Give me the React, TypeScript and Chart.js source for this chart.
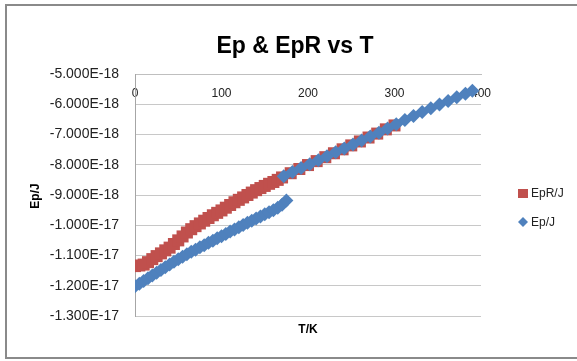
import React, { useEffect, useRef } from "react";
import { Chart, registerables } from "chart.js";

Chart.register(...registerables);

// EpR/J series (red squares)
const eprT = [
  0, 5, 10, 15, 20, 25, 30, 35, 40, 45, 50, 55, 60, 65, 70, 75, 80, 85, 90, 95,
  100, 105, 110, 115, 120, 125, 130, 135, 140, 145, 150, 155, 160, 165, 170,
  180, 190, 200, 210, 220, 230, 240, 250, 260, 270, 280, 290, 300,
];
const eprJ = [
  -11.35e-18, -11.33e-18, -11.3e-18, -11.22e-18, -11.12e-18, -11.02e-18, -10.93e-18, -10.83e-18,
  -10.74e-18, -10.62e-18, -10.5e-18, -10.37e-18, -10.24e-18, -10.13e-18, -10.03e-18, -9.94e-18,
  -9.85e-18, -9.76e-18, -9.67e-18, -9.59e-18, -9.51e-18, -9.42e-18, -9.33e-18, -9.24e-18,
  -9.16e-18, -9.08e-18, -9.0e-18, -8.92e-18, -8.84e-18, -8.77e-18, -8.7e-18, -8.63e-18,
  -8.57e-18, -8.5e-18, -8.42e-18,
  -8.28e-18, -8.14e-18, -8.01e-18, -7.88e-18, -7.75e-18, -7.62e-18, -7.49e-18, -7.36e-18,
  -7.23e-18, -7.1e-18, -6.97e-18, -6.83e-18, -6.7e-18,
];

// Ep/J series (blue diamonds)
const epT = [
  0, 5, 10, 15, 20, 25, 30, 35, 40, 45, 50, 55, 60, 65, 70, 75, 80, 85, 90, 95,
  100, 105, 110, 115, 120, 125, 130, 135, 140, 145, 150, 155, 160, 165, 170, 175,
  172, 182, 192, 202, 212, 222, 232, 242, 252, 262, 272, 282, 292, 302, 312, 322,
  332, 342, 352, 362, 372, 382, 390,
];
const epJ = [
  -12.02e-18, -11.93e-18, -11.84e-18, -11.75e-18, -11.66e-18, -11.57e-18, -11.48e-18, -11.39e-18,
  -11.3e-18, -11.21e-18, -11.12e-18, -11.04e-18, -10.96e-18, -10.88e-18, -10.81e-18, -10.73e-18,
  -10.66e-18, -10.58e-18, -10.51e-18, -10.43e-18, -10.36e-18, -10.29e-18, -10.21e-18, -10.14e-18,
  -10.07e-18, -9.99e-18, -9.92e-18, -9.85e-18, -9.78e-18, -9.71e-18, -9.64e-18, -9.57e-18,
  -9.5e-18, -9.42e-18, -9.32e-18, -9.18e-18,
  -8.38e-18, -8.24e-18, -8.11e-18, -7.98e-18, -7.85e-18, -7.72e-18, -7.59e-18, -7.46e-18,
  -7.33e-18, -7.2e-18, -7.07e-18, -6.94e-18, -6.8e-18, -6.66e-18, -6.52e-18, -6.39e-18,
  -6.26e-18, -6.13e-18, -6.01e-18, -5.89e-18, -5.77e-18, -5.65e-18, -5.55e-18,
];

const xTicks = [0, 100, 200, 300, 400];
const yTicks = [
  -1.3e-17, -1.2e-17, -1.1e-17, -1.0e-17, -9.0e-18, -8.0e-18, -7.0e-18, -6.0e-18, -5.0e-18,
];
const yTickLabels = [
  "-1.300E-17", "-1.200E-17", "-1.100E-17", "-1.000E-17", "-9.000E-18",
  "-8.000E-18", "-7.000E-18", "-6.000E-18", "-5.000E-18",
];

const TITLE = "Ep & EpR vs T";
const X_TITLE = "T/K";
const Y_TITLE = "Ep/J";
const SERIES_NAMES = ["EpR/J", "Ep/J"];

const RED = "#C0504D";
const BLUE = "#4F81BD";
const FONT = '"Liberation Sans", Arial, sans-serif';

const decorPlugin = {
  id: "decor",
  beforeDraw(chart: any) {
    const ctx = chart.ctx;
    ctx.save();
    ctx.fillStyle = "#ffffff";
    ctx.fillRect(0, 0, chart.width, chart.height);
    ctx.restore();
  },
  afterDraw(chart: any) {
    const ctx = chart.ctx;
    ctx.save();
    // border
    ctx.strokeStyle = "#8A8A8A";
    ctx.lineWidth = 2;
    ctx.strokeRect(6, 5, chart.width + 10, 353);
    // title
    ctx.fillStyle = "#000000";
    ctx.font = `bold 23px ${FONT}`;
    ctx.textAlign = "center";
    ctx.textBaseline = "alphabetic";
    ctx.fillText(TITLE, 295, 53);
    // axis titles
    ctx.font = `bold 12px ${FONT}`;
    ctx.textBaseline = "middle";
    ctx.fillText(X_TITLE, 308, 330);
    ctx.save();
    ctx.translate(36, 196);
    ctx.rotate(-Math.PI / 2);
    ctx.fillText(Y_TITLE, 0, 0);
    ctx.restore();
    // legend
    const ds = chart.data.datasets;
    ctx.font = `12px ${FONT}`;
    ctx.textAlign = "left";
    ctx.fillStyle = ds[0].backgroundColor;
    ctx.fillRect(518, 189, 10, 9);
    ctx.fillStyle = "#222222";
    ctx.fillText(ds[0].label, 531, 194);
    ctx.fillStyle = ds[1].backgroundColor;
    ctx.beginPath();
    ctx.moveTo(523, 217);
    ctx.lineTo(528, 222);
    ctx.lineTo(523, 227);
    ctx.lineTo(518, 222);
    ctx.closePath();
    ctx.fill();
    ctx.fillStyle = "#222222";
    ctx.fillText(ds[1].label, 531, 223);
    ctx.restore();
  },
};

export default function App() {
  const ref = useRef<HTMLCanvasElement | null>(null);
  useEffect(() => {
    if (!ref.current) return;
    const chart = new Chart(ref.current, {
      type: "scatter",
      data: {
        datasets: [
          {
            label: SERIES_NAMES[0],
            data: eprT.map((t, i) => ({ x: t, y: eprJ[i] })),
            backgroundColor: RED,
            borderColor: RED,
            pointStyle: "rect",
            pointRadius: 8.5,
            pointBorderWidth: 0,
            showLine: false,
            order: 1,
          },
          {
            label: SERIES_NAMES[1],
            data: epT.map((t, i) => ({ x: t, y: epJ[i] })),
            backgroundColor: BLUE,
            borderColor: BLUE,
            pointStyle: "rectRot",
            pointRadius: 7,
            pointBorderWidth: 0,
            showLine: false,
            order: 0,
          },
        ],
      },
      options: {
        animation: false,
        responsive: false,
        maintainAspectRatio: false,
        events: [],
        layout: { padding: { left: 0, top: 74, right: 96, bottom: 45 } },
        plugins: {
          legend: { display: false },
          title: { display: false },
          tooltip: { enabled: false },
        },
        scales: {
          x: {
            type: "linear",
            min: 0,
            max: 400,
            position: { y: -5e-18 } as any,
            grid: { display: false, drawTicks: false },
            border: { display: true, color: "#BFBFBF" },
            ticks: {
              padding: 12,
              maxRotation: 0,
              color: "#222222",
              font: { family: FONT, size: 12 },
            },
            afterBuildTicks: (s: any) => {
              s.ticks = xTicks.map((v) => ({ value: v }));
            },
          },
          y: {
            type: "linear",
            min: -1.3e-17,
            max: -5e-18,
            grid: { color: "#C8C8C8", drawTicks: false },
            border: { display: true, color: "#A6A6A6" },
            ticks: {
              padding: 16,
              color: "#222222",
              font: { family: FONT, size: 14 },
              callback: (_v: any, i: number) => yTickLabels[i],
            },
            afterBuildTicks: (s: any) => {
              s.ticks = yTicks.map((v) => ({ value: v }));
            },
            afterFit: (s: any) => {
              s.width = 135;
            },
          },
        },
      },
      plugins: [decorPlugin],
    });
    return () => chart.destroy();
  }, []);
  return (
    <div style={{ position: "absolute", left: 0, top: 0, width: 577, height: 361 }}>
      <canvas ref={ref} width={577} height={361} style={{ width: 577, height: 361 }} />
    </div>
  );
}
